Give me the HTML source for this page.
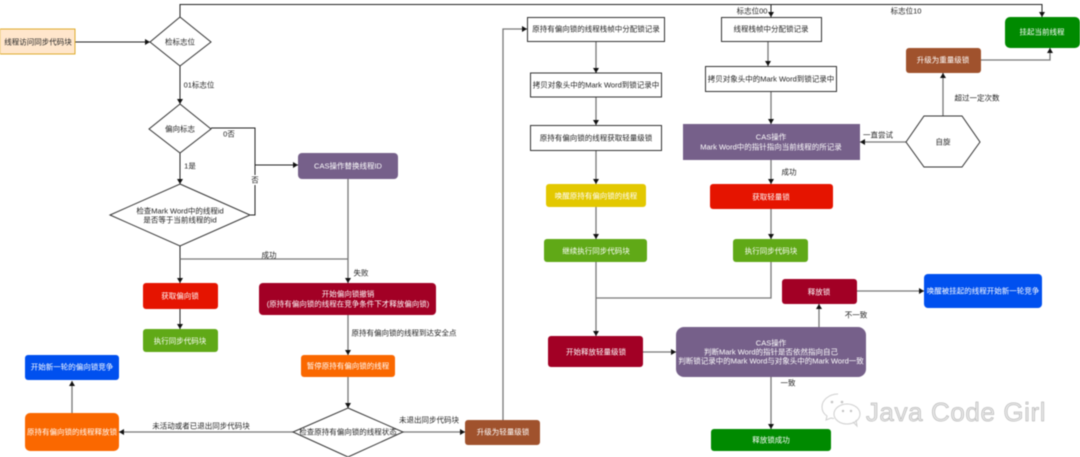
<!DOCTYPE html>
<html>
<head>
<meta charset="utf-8">
<style>
html,body{margin:0;padding:0;background:#fff;width:1080px;height:457px;overflow:hidden}
svg{display:block;filter:blur(.5px)}
text{font-family:"Liberation Sans","Noto Sans CJK SC",sans-serif;font-size:7.5px;text-anchor:middle;dominant-baseline:central;fill:#222}
.w{fill:#fff}
.l{stroke:#222;stroke-width:1;fill:none}
.g{stroke:#777;stroke-width:1.300;fill:none}
.n{fill:#fff;stroke:#333;stroke-width:1}
</style>
</head>
<body>
<svg width="1080" height="457" viewBox="0 0 1080 457" xmlns="http://www.w3.org/2000/svg">
<defs>
<marker id="a" markerUnits="userSpaceOnUse" markerWidth="6" markerHeight="6" refX="5" refY="3" orient="auto"><path d="M0,0L5,3L0,6Z" fill="#111"/></marker>
</defs>

<!-- connectors -->
<path class="l" d="M75 42H150" marker-end="url(#a)"/>
<path class="l" d="M180 17V4.500H1042V17" marker-end="url(#a)"/>
<path class="l" d="M771 4.500V17" marker-end="url(#a)"/>
<path class="l" d="M180 66V104" marker-end="url(#a)"/>
<path class="l" d="M211 128H255V215H250"/>
<path class="l" d="M255 165H298" marker-end="url(#a)"/>
<path class="l" d="M180 153V184" marker-end="url(#a)"/>
<path class="l" d="M180 246V283" marker-end="url(#a)"/>
<path class="g" d="M180 259H348"/>
<path class="g" d="M348 179V283" marker-end="url(#a)"/>
<path class="l" d="M180 309V329" marker-end="url(#a)"/>
<path class="g" d="M348 315V355" marker-end="url(#a)"/>
<path class="g" d="M348 377V408" marker-end="url(#a)"/>
<path class="g" d="M293 432H119" marker-end="url(#a)"/>
<path class="g" d="M72 413V381" marker-end="url(#a)"/>
<path class="g" d="M403 432H465" marker-end="url(#a)"/>
<path class="g" d="M503 420V29H527" marker-end="url(#a)"/>
<path class="g" d="M596 42V73" marker-end="url(#a)"/>
<path class="g" d="M596 97V125" marker-end="url(#a)"/>
<path class="g" d="M596 150V184" marker-end="url(#a)"/>
<path class="g" d="M596 206V239" marker-end="url(#a)"/>
<path class="g" d="M596 262V336" marker-end="url(#a)"/>
<path class="g" d="M643 352H676" marker-end="url(#a)"/>
<path class="g" d="M768 42V66" marker-end="url(#a)"/>
<path class="g" d="M771 91V124" marker-end="url(#a)"/>
<path class="g" d="M771 160V184" marker-end="url(#a)"/>
<path class="g" d="M771 209V239" marker-end="url(#a)"/>
<path class="g" d="M771 261V298H596"/>
<path class="g" d="M857 291H924" marker-end="url(#a)"/>
<path class="g" d="M819 327V304" marker-end="url(#a)"/>
<path class="g" d="M771 377V429" marker-end="url(#a)"/>
<path class="g" d="M906 142H860" marker-end="url(#a)"/>
<path class="g" d="M943 116V73" marker-end="url(#a)"/>
<path class="g" d="M981 60H1050V48" marker-end="url(#a)"/>

<!-- left column -->
<rect x="0" y="29" width="75" height="25" fill="#ffe6cc" stroke="#d79b00" stroke-width=".8"/>
<text x="38" y="42">线程访问同步代码块</text>
<polygon class="n" points="180,17 211,42 180,66 150,42"/>
<text x="180" y="42">检标志位</text>
<text x="199" y="85">01标志位</text>
<polygon class="n" points="180,104 211,129 180,153 149,129"/>
<text x="180" y="129">偏向标志</text>
<text x="229" y="134">0否</text>
<text x="190" y="166">1是</text>
<polygon class="n" points="180,184 250,215 180,246 110,215"/>
<text x="180" y="211">检查Mark Word中的线程id</text>
<text x="180" y="220">是否等于当前线程的id</text>
<rect x="251" y="175" width="8" height="10" fill="#fff"/>
<text x="255" y="180">否</text>
<rect x="298" y="153" width="100" height="26" rx="4" fill="#76608a"/>
<text class="w" x="348" y="166">CAS操作替换线程ID</text>
<text x="269" y="255">成功</text>
<text x="361" y="273">失败</text>

<rect x="143" y="283" width="75" height="26" rx="3" fill="#e51400"/>
<text class="w" x="180" y="296">获取偏向锁</text>
<rect x="143" y="329" width="75" height="23" rx="3" fill="#60a917"/>
<text class="w" x="180" y="341">执行同步代码块</text>

<rect x="259" y="283" width="177" height="32" rx="4" fill="#a20025"/>
<text class="w" x="348" y="294">开始偏向锁撤销</text>
<text class="w" x="348" y="304">(原持有偏向锁的线程在竞争条件下才释放偏向锁)</text>
<text x="404" y="333">原持有偏向锁的线程到达安全点</text>
<rect x="301" y="355" width="94" height="22" rx="3" fill="#fa6800"/>
<text class="w" x="348" y="366">暂停原持有偏向锁的线程</text>
<polygon class="n" points="348,408 403,432 348,457 293,432"/>
<text x="348" y="432">检查原持有偏向锁的线程状态</text>
<text x="201" y="426">未活动或者已退出同步代码块</text>
<text x="429" y="420">未退出同步代码块</text>
<rect x="25" y="413" width="94" height="38" rx="5" fill="#fa6800"/>
<text class="w" x="72" y="432">原持有偏向锁的线程释放锁</text>
<rect x="25" y="355" width="94" height="25" rx="3" fill="#0050ef"/>
<text class="w" x="72" y="367">开始新一轮的偏向锁竞争</text>
<rect x="465" y="420" width="75" height="25" rx="3" fill="#a0522d"/>
<text class="w" x="503" y="432">升级为轻量级锁</text>

<!-- middle column -->
<rect class="n" x="527.500" y="17.500" width="137" height="24"/>
<text x="596" y="29">原持有偏向锁的线程栈帧中分配锁记录</text>
<rect class="n" x="530.500" y="73" width="131" height="24"/>
<text x="596" y="85">拷贝对象头中的Mark Word到锁记录中</text>
<rect class="n" x="530.500" y="125.500" width="131" height="25"/>
<text x="596" y="138">原持有偏向锁的线程获取轻量级锁</text>
<rect x="546" y="184" width="100" height="23" rx="3" fill="#e3c800"/>
<text class="w" x="596" y="196">唤醒原持有偏向锁的线程</text>
<rect x="544" y="239" width="103" height="23" rx="3" fill="#60a917"/>
<text class="w" x="596" y="251">继续执行同步代码块</text>
<rect x="548" y="336" width="95" height="31" rx="3" fill="#a20025"/>
<text class="w" x="596" y="352">开始释放轻量级锁</text>

<!-- right column -->
<text x="752" y="11">标志位00</text>
<text x="906" y="11">标志位10</text>
<rect class="n" x="721.500" y="17.500" width="100" height="24"/>
<text x="771" y="29">线程栈帧中分配锁记录</text>
<rect class="n" x="705.500" y="66.500" width="131" height="25"/>
<text x="771" y="79">拷贝对象头中的Mark Word到锁记录中</text>
<rect x="683" y="124" width="177" height="36" fill="#76608a"/>
<text class="w" x="771" y="137">CAS操作</text>
<text class="w" x="771" y="147">Mark Word中的指针指向当前线程的所记录</text>
<text x="789" y="172">成功</text>
<rect x="710" y="184" width="123" height="25" rx="3" fill="#e51400"/>
<text class="w" x="771" y="197">获取轻量锁</text>
<rect x="733" y="239" width="75" height="23" rx="3" fill="#60a917"/>
<text class="w" x="771" y="251">执行同步代码块</text>
<rect x="782" y="279" width="75" height="25" rx="3" fill="#a20025"/>
<text class="w" x="819" y="292">释放锁</text>
<rect x="924" y="274" width="118" height="34" rx="4" fill="#0050ef"/>
<text class="w" x="983" y="291">唤醒被挂起的线程开始新一轮竞争</text>
<text x="856" y="315">不一致</text>
<rect x="676" y="327" width="190" height="50" rx="8" fill="#76608a"/>
<text class="w" x="771" y="343">CAS操作</text>
<text class="w" x="771" y="352">判断Mark Word的指针是否依然指向自己</text>
<text class="w" x="771" y="361">判断锁记录中的Mark Word与对象头中的Mark Word一致</text>
<text x="788" y="383">一致</text>
<rect x="711" y="429" width="120" height="22" rx="3" fill="#008a00"/>
<text class="w" x="771" y="440">释放锁成功</text>

<polygon class="n" points="906,142 924,116 962,116 980,142 962,167 924,167"/>
<text x="943" y="142">自旋</text>
<text x="878" y="135">一直尝试</text>
<text x="977" y="98">超过一定次数</text>
<rect x="906" y="48" width="75" height="25" rx="3" fill="#a0522d"/>
<text class="w" x="943" y="60">升级为重量级锁</text>
<rect x="1005" y="17" width="75" height="31" rx="5" fill="#008a00"/>
<text class="w" x="1042" y="32">挂起当前线程</text>

<!-- watermark -->
<g fill="none" stroke="#cfcfcf" stroke-width="1">
<path d="M838 394c-9 0-16 6-16 13 0 4 2 7 5 9l-1 4 5-2c1 .3 2 .5 3 .5"/>
<ellipse cx="847" cy="414" rx="13" ry="10" fill="#fff"/>
<path d="M853 422l4 4-1-6"/>
</g>
<g fill="#c4c4c4"><circle cx="832" cy="402" r="1.300"/><circle cx="842" cy="402" r="1.300"/><circle cx="843" cy="411" r="1.200"/><circle cx="851" cy="411" r="1.200"/></g>
<text x="956" y="412" style="font-size:26px;fill:#e6e6e6;letter-spacing:.6px;stroke:#aaa;stroke-width:.5px">Java Code Girl</text>
</svg>
</body>
</html>
